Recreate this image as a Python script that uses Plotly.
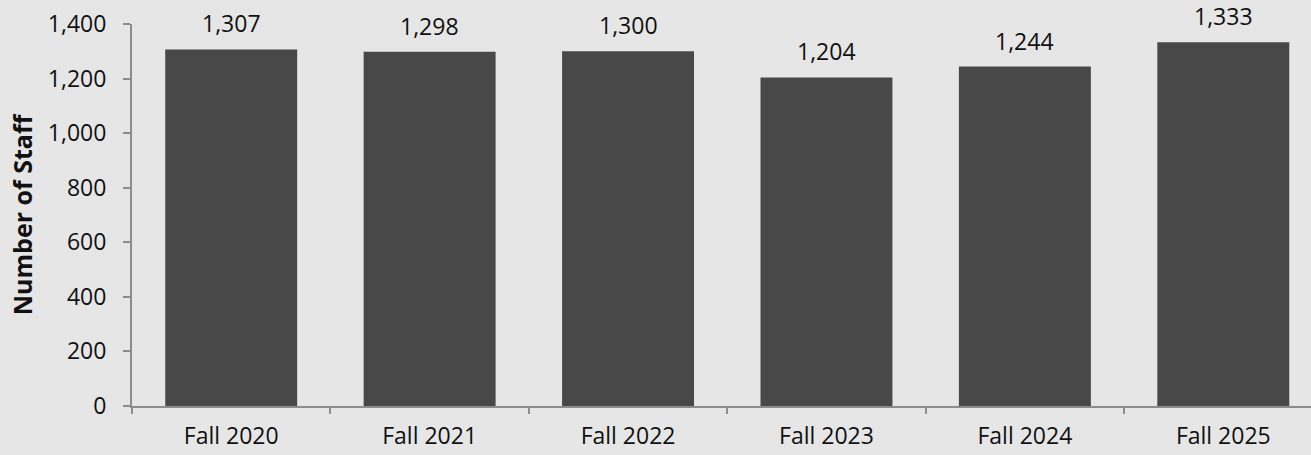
import plotly.graph_objects as go

categories = ["Fall 2020", "Fall 2021", "Fall 2022", "Fall 2023", "Fall 2024", "Fall 2025"]
staff = [1307, 1298, 1300, 1204, 1244, 1333]
y_ticks = [0, 200, 400, 600, 800, 1000, 1200, 1400]

BG = "#e6e6e6"
BAR = "#484848"
AXIS = "#8c8c8c"
FONT = "Open Sans"
TXT = "#111111"

fig = go.Figure()
fig.add_trace(go.Bar(
    x=categories, y=staff,
    marker=dict(color=BAR, line=dict(width=0)),
    width=0.665,
    hoverinfo="skip",
))

for c, v in zip(categories, staff):
    fig.add_annotation(x=c, y=v, text=f"{v:,}", showarrow=False,
                       xanchor="center", yanchor="bottom", yshift=8,
                       font=dict(family=FONT, size=23, color=TXT))

fig.update_layout(
    width=1311, height=455,
    paper_bgcolor=BG, plot_bgcolor=BG,
    margin=dict(l=132, r=0, t=24, b=49),
    showlegend=False,
    font=dict(family=FONT, size=23, color=TXT),
)
fig.update_xaxes(
    type="category",
    range=[-0.5, 5.442],
    tickson="boundaries", ticks="outside", ticklen=6, tickcolor=AXIS, tickwidth=1.5,
    ticklabelstandoff=8,
    showline=True, linecolor=AXIS, linewidth=2,
    showgrid=False, zeroline=False,
    tickfont=dict(family=FONT, size=23, color=TXT),
)
fig.update_yaxes(
    range=[0, 1400],
    tickmode="array", tickvals=y_ticks, ticktext=[f"{t:,}" for t in y_ticks],
    ticks="outside", ticklen=7, tickcolor=AXIS, tickwidth=1.5,
    ticklabelstandoff=12,
    showline=True, linecolor=AXIS, linewidth=2,
    showgrid=False, zeroline=False,
    tickfont=dict(family=FONT, size=23, color=TXT),
    title=dict(text="<b>Number of Staff</b>", font=dict(family=FONT, size=25, color=TXT), standoff=8),
)

fig.write_html("out.html", config={"displayModeBar": False},
               post_script="document.body.style.margin='0';document.body.style.overflow='hidden';")
